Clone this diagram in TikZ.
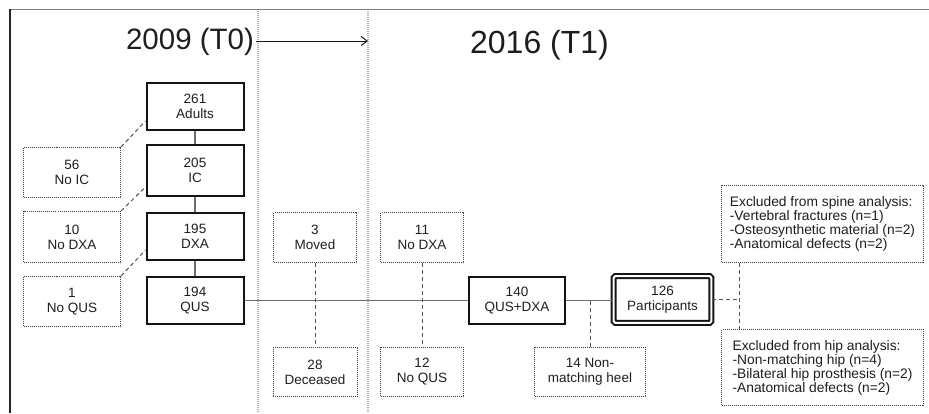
\documentclass[tikz,border=0pt]{standalone}
\usepackage{fontspec}
\setmainfont{Liberation Sans}
\usetikzlibrary{arrows.meta}
\definecolor{txt}{HTML}{1E1E1E}
\definecolor{solidgray}{HTML}{6E6E6E}
\definecolor{dashgray}{HTML}{555555}
\begin{document}
\begin{tikzpicture}[x=1pt,y=-1pt,
  every node/.style={font=\fontsize{13.5}{15}\selectfont, text=txt, align=center, inner sep=0pt},
  mainbox/.style={draw=black!92, line width=2pt, minimum width=97pt, minimum height=47pt},
  exbox/.style={draw=black!75, densely dotted, line width=1pt},
  sidebox/.style={exbox, minimum width=202pt, align=left, font=\fontsize{13.8}{14}\selectfont},
  link/.style={draw=solidgray, line width=1.3pt},
  exlink/.style={draw=dashgray, line width=1pt, dash pattern=on 4pt off 3pt},
  guide/.style={draw=black!30, line width=1.3pt, dash pattern=on 1pt off 1pt},
  title/.style={anchor=base, inner sep=0pt}]
\useasboundingbox (0,0) rectangle (929,413);

% frame
\draw[black!50, line width=1.6pt] (10,9.5) -- (929,9.5);
\draw[black!85, line width=1.4pt] (10,9) -- (10,413);

% time guides
\draw[guide] (258,11) -- (258,413);
\draw[guide] (368,11) -- (368,413);

% titles
\node[title, font=\fontsize{29.5}{32}\selectfont] (t0) at (190,49.5) {2009 (T0)};
\node[title, font=\fontsize{32}{35}\selectfont] (t1) at (539.5,53.3) {2016 (T1)};
\coordinate (arrowend) at (368,41);
\draw[black!90, line width=1pt, -{Straight Barb[length=6pt, width=9pt]}] (t0.east |- arrowend) ++(2,0) -- (arrowend);

% main column
\node[mainbox] (adults) at (195,106.5) {261\\Adults};
\node[mainbox, minimum height=51pt] (ic) at (195,170.5) {205\\IC};
\node[mainbox] (dxa) at (195,236.5) {195\\DXA};
\node[mainbox] (qus) at (195,300.5) {194\\QUS};

% left exclusions
\node[exbox, minimum width=97pt, minimum height=50pt] (noic) at (72,172.5) {56\\No IC};
\node[exbox, minimum width=97pt, minimum height=51pt] (nodxa) at (72,237) {10\\No DXA};
\node[exbox, minimum width=97pt, minimum height=50pt] (noqus) at (72,301.5) {1\\No QUS};

% follow-up losses
\node[exbox, minimum width=83pt, minimum height=50pt] (moved) at (315,237.5) {3\\Moved};
\node[exbox, minimum width=84pt, minimum height=49pt] (deceased) at (315,372) {28\\Deceased};
\node[exbox, minimum width=83pt, minimum height=50pt] (nodxatwo) at (422,237.5) {11\\No DXA};
\node[exbox, minimum width=83pt, minimum height=49pt] (noqustwo) at (422,372) {12\\No QUS};

% T1 boxes
\node[mainbox, minimum width=96pt] (qusdxa) at (517,300.5) {140\\QUS+DXA};
\node[draw=black!92, line width=2pt, double=white, double distance=2pt, rounded corners=1.5pt,
      minimum width=97.6pt, minimum height=46.7pt] (part) at (662.5,299.5) {126\\Participants};
\node[exbox, minimum width=111pt, minimum height=49pt] (heel) at (590,372) {14 Non-\\matching heel};

\node[sidebox, minimum height=77pt] (spine) at (822.5,224)
  {Excluded from spine analysis:\\-Vertebral fractures (n=1)\\-Osteosynthetic material (n=2)\\-Anatomical defects (n=2)};
\node[sidebox, minimum height=76pt] (hip) at (822.5,367.5)
  {Excluded from hip analysis:\\-Non-matching hip (n=4)\\-Bilateral hip prosthesis (n=2)\\-Anatomical defects (n=2)};

% solid links
\draw[link] (adults) -- (ic);
\draw[link] (ic) -- (dxa);
\draw[link] (dxa) -- (qus);
\draw[link] (qus.east) -- (qus.east -| qusdxa.west);
\draw[link] (qusdxa.east) -- (qusdxa.east -| part.west);

% dashed exclusion links
\draw[exlink] (noic.north east) -- ([yshift=10pt]adults.south west);
\draw[exlink] (nodxa.north east) -- ([yshift=10pt]ic.south west);
\draw[exlink] (noqus.north east) -- ([yshift=11pt]dxa.south west);
\draw[exlink] (moved.south) -- (deceased.north);
\draw[exlink] (nodxatwo.south) -- (noqustwo.north);
\coordinate (heeljoin) at (heel.north |- qusdxa.east);
\draw[exlink] (heel.north) -- (heeljoin);
\coordinate (splitjoin) at (739,299.5);
\draw[exlink] (part.east) -- (splitjoin);
\draw[exlink] (spine.south -| splitjoin) -- (hip.north -| splitjoin);
\end{tikzpicture}
\end{document}
